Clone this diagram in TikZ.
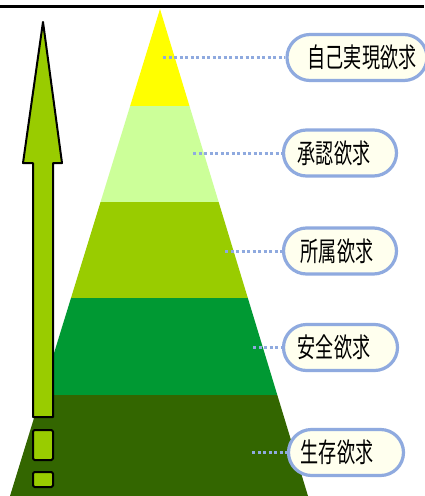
\documentclass[tikz,border=0pt]{standalone}
\usepackage{graphicx}
\usepackage{fontspec}
\newfontfamily\jpfont{Noto Sans CJK JP}
\definecolor{lyellow}{HTML}{FFFF00}
\definecolor{lgreen}{HTML}{CCFF99}
\definecolor{ygreen}{HTML}{99CC00}
\definecolor{mgreen}{HTML}{009933}
\definecolor{dgreen}{HTML}{336600}
\definecolor{pillblue}{HTML}{8FAADF}
\definecolor{pillfill}{HTML}{FFFFEE}
\tikzset{
  pill/.style={draw=pillblue, line width=3.2pt, fill=pillfill, rounded corners=23pt,
    minimum height=46pt, inner sep=0pt},
  lbl/.style={inner sep=0pt, font=\jpfont\fontsize{27}{27}\selectfont, text=black},
  leader/.style={draw=pillblue, line width=3pt, dash pattern=on 3pt off 2.5pt},
  arrowpart/.style={fill=ygreen, draw=black, line width=2pt, line join=round}
}
\newcommand{\sq}[1]{\scalebox{0.67}[1]{#1}}
\begin{document}
\begin{tikzpicture}[x=1pt,y=-1pt]
\useasboundingbox (0,0) rectangle (424,496);
\fill[white] (0,0) rectangle (424,496);
% top rule
\draw[black, line width=3pt] (0,6) -- (424,6);
% pyramid
\begin{scope}
  \clip (160,9) -- (308,496) -- (10,496) -- cycle;
  \fill[lyellow] (0,0) rectangle (424,106);
  \fill[lgreen] (0,106) rectangle (424,202);
  \fill[ygreen] (0,202) rectangle (424,298);
  \fill[mgreen] (0,298) rectangle (424,395);
  \fill[dgreen] (0,395) rectangle (424,497);
\end{scope}
% arrow
\draw[arrowpart] (43,22) -- (62,163) -- (53,163) -- (53,417) -- (33,417) -- (33,163) -- (23,163) -- cycle;
\draw[arrowpart, rounded corners=1.5pt] (33,430) rectangle (53,460);
\draw[arrowpart, rounded corners=1.5pt] (33,472) rectangle (53,487);
% label boxes
\node[pill, minimum width=140pt] (b1) at (357,57.5) {};
\node[pill, minimum width=113pt] (b2) at (340,153) {};
\node[pill, minimum width=113pt] (b3) at (340,251) {};
\node[pill, minimum width=114pt] (b4) at (340.5,347.5) {};
\node[pill, minimum width=115pt] (b5) at (346,452.5) {};
\node[lbl] (t1) at (362,57.5) {\sq{自己実現欲求}};
\node[lbl] (t2) at (334,153) {\sq{承認欲求}};
\node[lbl] (t3) at (337,251) {\sq{所属欲求}};
\node[lbl] (t4) at (334,347.5) {\sq{安全欲求}};
\node[lbl] (t5) at (337,452.5) {\sq{生存欲求}};
% leader lines
\coordinate (c1) at (163,57.5);
\coordinate (c2) at (193,153);
\coordinate (c3) at (225,251);
\coordinate (c4) at (253,347.5);
\coordinate (c5) at (252,452.5);
\draw[leader] (c1) -- (b1.west);
\draw[leader] (c2) -- (b2.west);
\draw[leader] (c3) -- (b3.west);
\draw[leader] (c4) -- (b4.west);
\draw[leader] (c5) -- (b5.west);
\end{tikzpicture}
\end{document}
